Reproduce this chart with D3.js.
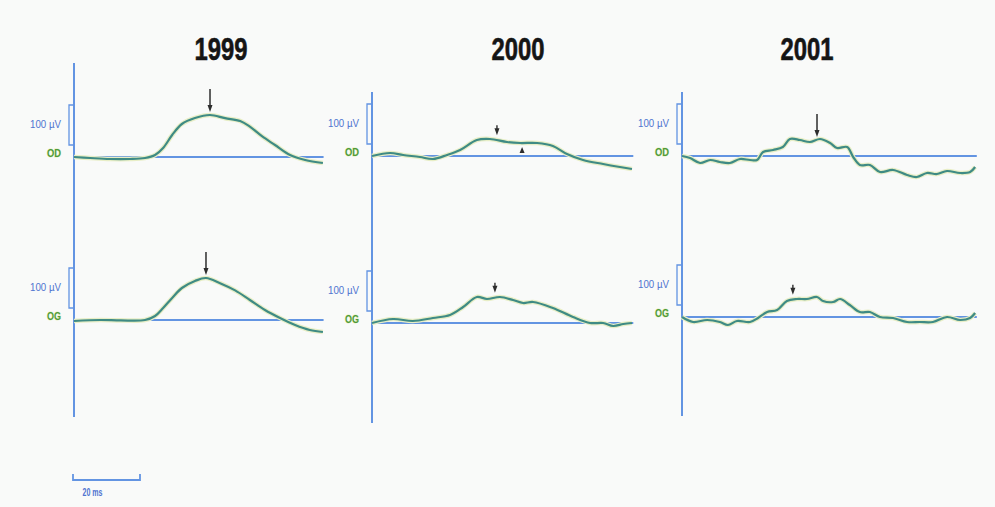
<!DOCTYPE html>
<html>
<head>
<meta charset="utf-8">
<script src="https://cdn.jsdelivr.net/npm/d3@7"></script>
<style>
  html, body { margin: 0; padding: 0; background: #f9faf9; }
  svg { display: block; }
</style>
</head>
<body>
<svg id="chart" width="995" height="507"></svg>
<script>
// Pattern ERG responses, right eye (OD) and left eye (OG), by year.
// Each trace: [time in ms, amplitude in µV] relative to the baseline.
const years = ["1999", "2000", "2001"];
const eyes = ["OD", "OG"];
const sweepMs = [74.5, 78, 88];          // recorded sweep length per year
const calibrationUv = [30, 130];         // 100 µV calibration bracket
const scaleBarMs = 20;
const scaleBarLabel = "20 ms";
const calibrationLabel = "100 µV";

const od1999 = [[0,0],[4.8,-2.5],[10.7,-5],[16.7,-5],[21.2,-2.5],[24.2,5],[26.6,22.5],[29.3,55],[32.2,82.5],[36.1,97.5],[40.6,105],[45.1,97],[49.6,90],[52.5,76],[56.1,52],[60,30],[64.5,5],[69,-7.5],[74.3,-15]];
const og1999 = [[0,-2.5],[7.8,0],[14,-1],[21.2,0],[24.2,10],[26.6,30],[29.3,55],[32.2,80],[36.1,97.5],[39.4,105],[43.6,92],[48.1,74],[52.5,50],[57,25],[61.5,5],[66,-12.5],[70.4,-25],[74.3,-30]];
const od2000 = [[0,0],[5.4,7.5],[9.3,2.5],[14.3,-2.5],[18.2,-7.5],[22.4,2.5],[26.3,15],[31.3,40],[35.2,42.5],[40.3,35],[44.2,32.5],[49.3,32.5],[54,25],[58.2,5],[63,-10],[69,-20],[74,-27.5],[77.6,-32.5]];
const og2000 = [[0,0],[6.3,10],[12.2,5],[18.2,12.5],[23.3,20],[27.2,40],[31.3,65],[34.3,60],[38.2,65],[42.1,57.5],[45.1,50],[48.1,52.5],[54,37.5],[60,15],[65.1,0],[69,0],[72,-7.5],[75,-2.5],[77.6,0]];
const od2001 = [[0,0],[2.4,-5],[5.4,-17.5],[8.4,-10],[11.3,-15],[14.3,-17.5],[17.3,-7.5],[20.3,-10],[22.4,-10],[24.2,10],[27.2,15],[30.1,22.5],[32.2,42.5],[35.2,40],[38.2,35],[41.2,42.5],[44.2,32.5],[46.3,20],[49.3,22.5],[51.1,-2.5],[53.1,-22.5],[56.1,-22.5],[59.1,-40],[63,-35],[67.2,-47.5],[70.1,-52.5],[73.1,-42.5],[76.1,-45],[79.1,-37.5],[83,-42.5],[86,-40],[87.5,-27.5]];
const og2001 = [[0,0],[3.3,-12.5],[7.5,-7.5],[11.3,-12.5],[13.7,-20],[16.4,-10],[20.3,-12.5],[22.7,-2.5],[25.4,12.5],[28.4,17.5],[31.3,40],[34.3,45],[37.3,45],[40.3,50],[42.1,40],[45.1,37.5],[47.2,45],[50.1,30],[53.1,12.5],[56.1,12.5],[59.1,0],[63,-2.5],[67.2,-12.5],[71,-12.5],[74.9,-12.5],[79.1,0],[83,-7.5],[86,-2.5],[87.5,10]];

// Peak markers: time (ms) and marker kind ("long" arrow, "head" only, "up" below trace)
const markers1999 = [[{t:40.6, kind:"long"}], [{t:39.4, kind:"long"}]];
const markers2000 = [[{t:37.3, kind:"head"}, {t:44.8, kind:"up"}], [{t:36.7, kind:"head"}]];
const markers2001 = [[{t:40.3, kind:"long"}], [{t:33.1, kind:"head"}]];

const traces = [[od1999, og1999], [od2000, og2000], [od2001, og2001]];
const markers = [markers1999, markers2000, markers2001];

// ---- layout ----
const svg = d3.select("#chart");
const pxPerMs = 3.35;
const pxPerUv = 0.4;
const panelX = [74, 372, 682];
const titleX = [221, 518, 807];
const baseY = [[157, 320], [156, 323], [156, 317]];
const axisSpan = [[63, 417], [92, 423], [92, 416]];

const axisBlue = "#6394e2";
const traceColor = "#3f8b84";
const haloColor = "#e8eec6";
const labelGreen = "#4f9a3a";

svg.append("rect").attr("width", 995).attr("height", 507).attr("fill", "#f9faf9");

years.forEach((yr, p) => {
  const x = d3.scaleLinear().domain([0, sweepMs[p]]).range([panelX[p], panelX[p] + sweepMs[p] * pxPerMs]);

  svg.append("text")
    .attr("x", titleX[p]).attr("y", 60)
    .attr("text-anchor", "middle")
    .attr("font-family", "'Liberation Sans Narrow', 'Arial Narrow', 'Liberation Sans', Arial, sans-serif")
    .attr("font-weight", "bold").attr("font-size", 31)
    .attr("textLength", 53).attr("lengthAdjust", "spacingAndGlyphs")
    .attr("fill", "#151515")
    .attr("stroke", "#151515").attr("stroke-width", 0.6)
    .text(yr);

  // vertical time-zero axis
  svg.append("line")
    .attr("x1", panelX[p]).attr("x2", panelX[p])
    .attr("y1", axisSpan[p][0]).attr("y2", axisSpan[p][1])
    .attr("stroke", axisBlue).attr("stroke-width", 2);

  eyes.forEach((eye, e) => {
    const y = d3.scaleLinear().domain([0, 100]).range([baseY[p][e], baseY[p][e] - 100 * pxPerUv]);
    const data = traces[p][e];

    // baseline
    svg.append("line")
      .attr("x1", x(0)).attr("x2", x(sweepMs[p]))
      .attr("y1", y(0)).attr("y2", y(0))
      .attr("stroke", axisBlue).attr("stroke-width", 2.2);

    // calibration bracket
    const bx = x(0) - 5;
    svg.append("path")
      .attr("d", `M${x(0)},${y(calibrationUv[1])}H${bx}V${y(calibrationUv[0])}H${x(0)}`)
      .attr("fill", "none").attr("stroke", axisBlue).attr("stroke-width", 1.3);
    svg.append("text")
      .attr("x", bx - 8).attr("y", y((calibrationUv[0] + calibrationUv[1]) / 2) + 3)
      .attr("text-anchor", "end")
      .attr("font-family", "'Liberation Sans Narrow', 'Liberation Sans', sans-serif")
      .attr("font-size", 10).attr("fill", "#4f74d0")
      .attr("textLength", 31).attr("lengthAdjust", "spacingAndGlyphs")
      .text(calibrationLabel);

    // eye label
    svg.append("text")
      .attr("x", x(0) - 13).attr("y", y(0) + 0)
      .attr("text-anchor", "end")
      .attr("font-family", "'Liberation Sans', sans-serif")
      .attr("font-weight", "bold").attr("font-size", 11)
      .attr("textLength", 14).attr("lengthAdjust", "spacingAndGlyphs")
      .attr("fill", labelGreen)
      .attr("stroke", "#e6efb8").attr("stroke-width", 0.8).attr("paint-order", "stroke")
      .text(eye);

    const line = d3.line()
      .x(d => x(d[0])).y(d => y(d[1]))
      .curve(d3.curveCatmullRom.alpha(0.5));

    svg.append("path").datum(data)
      .attr("d", line).attr("fill", "none")
      .attr("stroke", haloColor).attr("stroke-width", 4.6).attr("stroke-linejoin", "round");
    svg.append("path").datum(data)
      .attr("d", line).attr("fill", "none")
      .attr("stroke", traceColor).attr("stroke-width", 2.2).attr("stroke-linejoin", "round");

    // peak markers
    const valueAt = t => {
      const i = d3.bisector(d => d[0]).left(data, t);
      const a = data[Math.max(0, i - 1)], b = data[Math.min(data.length - 1, i)];
      const f = b[0] === a[0] ? 0 : (t - a[0]) / (b[0] - a[0]);
      return a[1] + f * (b[1] - a[1]);
    };
    markers[p][e].forEach(m => {
      const mx = x(m.t), my = y(valueAt(m.t));
      if (m.kind === "long") {
        svg.append("line")
          .attr("x1", mx).attr("x2", mx).attr("y1", my - 26).attr("y2", my - 6)
          .attr("stroke", "#2d2d2d").attr("stroke-width", 1.5);
        svg.append("path")
          .attr("d", `M${mx - 2.5},${my - 10}L${mx + 2.5},${my - 10}L${mx},${my - 3}Z`)
          .attr("fill", "#2d2d2d");
      } else if (m.kind === "head") {
        svg.append("path")
          .attr("d", `M${mx - 2.5},${my - 12}L${mx + 2.5},${my - 12}L${mx},${my - 5}Z`)
          .attr("fill", "#2d2d2d");
        svg.append("line")
          .attr("x1", mx).attr("x2", mx).attr("y1", my - 15).attr("y2", my - 10)
          .attr("stroke", "#2d2d2d").attr("stroke-width", 1.4);
      } else {
        const ty = y(0) - 3;
        svg.append("path")
          .attr("d", `M${mx - 2.5},${ty}L${mx + 2.5},${ty}L${mx},${ty - 6}Z`)
          .attr("fill", "#2d2d2d");
      }
    });
  });
});

// time scale bar
const sb = d3.scaleLinear().domain([0, scaleBarMs]).range([73, 73 + scaleBarMs * pxPerMs]);
svg.append("path")
  .attr("d", `M${sb(0)},${474}V${480}H${sb(scaleBarMs)}V${474}`)
  .attr("fill", "none").attr("stroke", axisBlue).attr("stroke-width", 1.8);
svg.append("text")
  .attr("x", sb(scaleBarMs / 2) - 14).attr("y", 496)
  .attr("text-anchor", "middle")
  .attr("font-family", "'Liberation Sans Narrow', 'Liberation Sans', sans-serif")
  .attr("font-weight", "bold").attr("font-size", 10)
  .attr("textLength", 20).attr("lengthAdjust", "spacingAndGlyphs")
  .attr("fill", "#4f74d0")
  .text(scaleBarLabel);
</script>
</body>
</html>
